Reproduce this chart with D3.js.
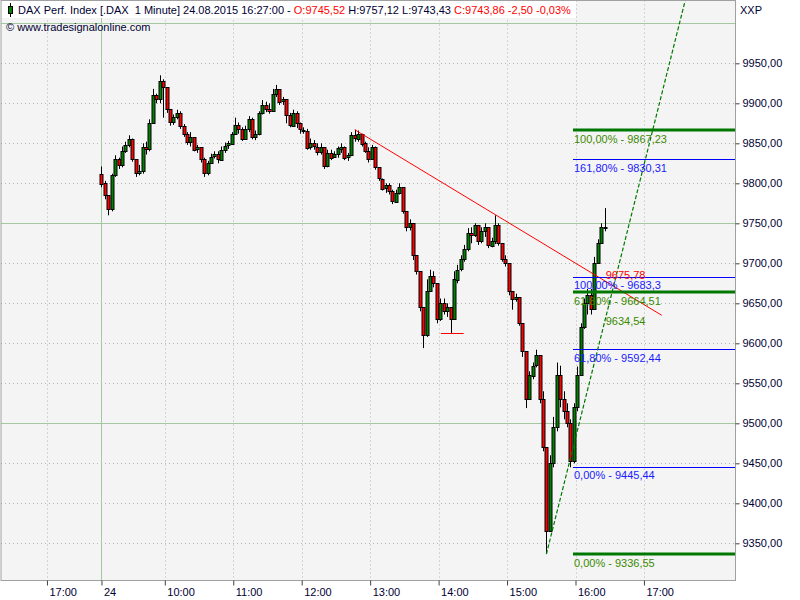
<!DOCTYPE html>
<html><head><meta charset="utf-8">
<script src="https://cdn.jsdelivr.net/npm/d3@7"></script>
<style>
body{margin:0;background:#fff}
svg{display:block;font-family:"Liberation Sans",Arial,sans-serif;font-size:11px}
</style>
</head><body>
<svg id="c" width="800" height="600"></svg>
<script>
// ---------- data ----------
const firstOpen = 9812;
const barStartMinute = 4.5;   // minutes after 09:00 of first bar
const barStepMinutes = 3;
const closes = [
 9800,9785,9768,9810,9830,9823,9840,9848,9855,9830,
 9812,9815,9845,9842,9875,9910,9905,9928,9920,9893,
 9877,9883,9888,9872,9862,9852,9858,9842,9845,9830,
 9812,9825,9833,9836,9830,9842,9847,9850,9862,9873,
 9868,9856,9868,9880,9858,9862,9888,9898,9893,9891,
 9912,9918,9902,9905,9885,9872,9888,9875,9867,9866,
 9845,9850,9846,9840,9846,9822,9838,9832,9836,9844,
 9846,9832,9835,9860,9856,9862,9850,9840,9830,9845,
 9820,9806,9794,9798,9790,9777,9788,9795,9765,9745,
 9750,9710,9690,9645,9610,9665,9684,9675,9630,9650,
 9640,9645,9630,9680,9692,9705,9718,9738,9735,9748,
 9728,9740,9745,9722,9728,9748,9725,9705,9700,9665,
 9655,9658,9625,9590,9530,9560,9572,9585,9530,9470,
 9365,9450,9495,9560,9530,9515,9500,9452,9520,9560,
 9620,9650,9660,9642,9700,9725,9745,9744
];
const highs = [
 9821,9803,9785,9812,9835,9832,9846,9852,9860,9856,
 9830,9823,9850,9852,9880,9918,9912,9935,9930,9918,
 9890,9886,9892,9890,9874,9864,9864,9855,9848,9842,
 9832,9828,9837,9840,9840,9846,9851,9853,9864,9882,
 9876,9870,9872,9884,9882,9866,9890,9904,9902,9900,
 9918,9923,9912,9908,9905,9888,9892,9890,9876,9870,
 9868,9856,9854,9850,9850,9842,9842,9842,9840,9846,
 9850,9846,9838,9864,9867,9866,9862,9852,9845,9848,
 9846,9820,9806,9800,9800,9792,9792,9800,9795,9765,
 9755,9748,9706,9690,9645,9680,9692,9690,9672,9656,
 9656,9650,9645,9690,9698,9710,9723,9744,9745,9750,
 9748,9745,9750,9745,9732,9760,9750,9725,9710,9700,
 9665,9662,9655,9625,9590,9565,9576,9592,9585,9540,
 9470,9460,9508,9576,9572,9540,9525,9505,9525,9571,
 9625,9656,9668,9668,9708,9730,9750,9769
];
const lows = [
 9795,9780,9760,9765,9808,9818,9820,9838,9845,9827,
 9808,9810,9812,9836,9840,9875,9900,9900,9882,9888,
 9872,9873,9880,9868,9858,9848,9846,9840,9838,9826,
 9808,9810,9825,9831,9825,9830,9838,9843,9848,9862,
 9862,9853,9855,9864,9855,9854,9860,9886,9889,9887,
 9890,9908,9898,9898,9875,9870,9872,9869,9862,9862,
 9842,9842,9842,9835,9836,9818,9820,9829,9832,9832,
 9838,9829,9828,9834,9852,9852,9846,9838,9826,9830,
 9817,9803,9791,9788,9786,9774,9778,9786,9762,9740,
 9741,9704,9686,9640,9594,9608,9665,9670,9625,9628,
 9636,9633,9613,9630,9675,9690,9702,9715,9725,9733,
 9723,9725,9733,9719,9720,9724,9722,9702,9696,9660,
 9642,9652,9622,9583,9519,9530,9555,9570,9525,9465,
 9337,9365,9445,9490,9520,9505,9495,9445,9450,9515,
 9560,9618,9636,9636,9642,9700,9725,9740
];

const timeTickLabels  = ["17:00","24","10:00","11:00","12:00","13:00","14:00","15:00","16:00","17:00"];
const timeTickMinutes = [-43.3, 4.5, 60, 120, 180, 240, 300, 360, 420, 480];
const dayBreakMinute = 4.5;
const priceTicks = [9350,9400,9450,9500,9550,9600,9650,9700,9750,9800,9850,9900,9950];
const roundLevels = [10000, 9750, 9500];

const fibStartMinute = 418;
const fibBlueLevels = [9830.31, 9683.3, 9592.44, 9445.44];
const fibBlueLabels = ["161,80% - 9830,31","100,00% - 9683,3","61,80% - 9592,44","0,00% - 9445,44"];
const fibGreenLevels = [9867.23, 9664.51, 9336.55];
const fibGreenLabels = ["100,00% - 9867,23","61,80% - 9664,51","0,00% - 9336,55"];

const resistMinutes = [226.5, 495.6];
const resistPrices  = [9867, 9635];
const supportMinutes = [394.5, 518];
const supportPrices  = [9336.55, 10039];
const markerMinutes = [302, 322];
const markerPrice = 9613;
const lastBarMinute = 446;
const resistLabel = "9675,78", resistValue = 9675.78;
const supportLabel = "9634,54", supportValue = 9634.54;

const headerParts = [
  ["DAX Perf. Index [.DAX\u00a0\u00a01 Minute] 24.08.2015 16:27:00 - ","#000033"],
  ["O:9745,52 ","#ff0000"],
  ["H:9757,12 L:9743,43 ","#000033"],
  ["C:9743,86 -2,50 -0,03%","#ff0000"]
];
const copyright = "\u00a9 www.tradesignalonline.com";

// ---------- layout ----------
const svg = d3.select("#c");
const P = {l:1, r:735.5, t:0.5, b:580.5};
const x = d3.scaleLinear().domain([60, 420]).range([164.8, 575.5]);
const y = d3.scaleLinear().domain([9350, 9950]).range([543.3, 63.3]);
const cy = v => Math.round(y(v)) + 0.5;

svg.append("defs").append("clipPath").attr("id","clip")
  .append("rect").attr("x",P.l).attr("y",P.t).attr("width",P.r-P.l).attr("height",P.b-P.t);

svg.append("rect").attr("x",P.l).attr("y",P.t).attr("width",P.r-P.l).attr("height",P.b-P.t)
  .attr("fill","#f4f4f4");

const g = svg.append("g").attr("clip-path","url(#clip)");

// dotted grid
g.append("g").selectAll("line").data(priceTicks).join("line")
  .attr("x1",P.l).attr("x2",P.r).attr("y1",cy).attr("y2",cy)
  .style("stroke","#b4b4b4").attr("stroke-dasharray","1,3");
g.append("g").selectAll("line").data(timeTickMinutes.filter(m=>m!==dayBreakMinute)).join("line")
  .attr("y1",P.t).attr("y2",P.b)
  .attr("x1",d=>Math.round(x(d))+0.5).attr("x2",d=>Math.round(x(d))+0.5)
  .style("stroke","#b4b4b4").attr("stroke-dasharray","1,3");

// round levels + day separator
g.append("g").selectAll("line").data(roundLevels).join("line")
  .attr("x1",P.l).attr("x2",P.r).attr("y1",cy).attr("y2",cy)
  .style("stroke","#a4c8a0");
g.append("line").attr("y1",P.t).attr("y2",P.b)
  .attr("x1",Math.round(x(dayBreakMinute))+0.5).attr("x2",Math.round(x(dayBreakMinute))+0.5)
  .style("stroke","#a4c8a0");

// header box
svg.append("rect").attr("x",2).attr("y",1).attr("width",574).attr("height",17).attr("fill","#ffffff");

// candles
const bars = closes.map((c,i)=>({
  m: barStartMinute + i*barStepMinutes,
  o: i===0 ? firstOpen : closes[i-1], c, h: highs[i], l: lows[i]
}));
const cg = g.append("g");
cg.append("g").selectAll("line").data(bars).join("line")
  .attr("x1",d=>Math.round(x(d.m))+0.5).attr("x2",d=>Math.round(x(d.m))+0.5)
  .attr("y1",d=>y(d.h)).attr("y2",d=>y(d.l))
  .style("stroke","#000").attr("stroke-width",1);
cg.append("g").selectAll("rect").data(bars).join("rect")
  .attr("x",d=>Math.round(x(d.m))-1).attr("width",3)
  .attr("y",d=>Math.round(y(Math.max(d.o,d.c)))+0.5)
  .attr("height",d=>Math.max(1,Math.round(Math.abs(y(d.o)-y(d.c)))))
  .style("fill",d=>d.c>=d.o?"#008000":"#ff0000")
  .style("stroke","#000").attr("stroke-width",1);

// marker line
g.append("line").attr("x1",x(markerMinutes[0])).attr("x2",x(markerMinutes[1]))
  .attr("y1",cy(markerPrice)).attr("y2",cy(markerPrice)).style("stroke","#ff0000");

// resistance trend line
g.append("line")
  .attr("x1",x(resistMinutes[0])).attr("y1",y(resistPrices[0]))
  .attr("x2",x(resistMinutes[1])).attr("y2",y(resistPrices[1]))
  .style("stroke","#ff0000").attr("stroke-width",1);

// fib lines
const fx1 = Math.round(x(fibStartMinute));
g.append("g").selectAll("line").data(fibBlueLevels).join("line")
  .attr("x1",fx1).attr("x2",P.r).attr("y1",cy).attr("y2",cy)
  .style("stroke","#0000ff").style("stroke-width","1px");
g.append("g").selectAll("line").data(fibGreenLevels).join("line")
  .attr("x1",fx1).attr("x2",P.r)
  .attr("y1",d=>Math.round(y(d))).attr("y2",d=>Math.round(y(d)))
  .style("stroke","#007800").style("stroke-width","3px");

// support (green dashed) line
g.append("line")
  .attr("x1",x(supportMinutes[0])).attr("y1",y(supportPrices[0]))
  .attr("x2",x(supportMinutes[1])).attr("y2",y(supportPrices[1]))
  .style("stroke","#007800").style("stroke-width","1.2px").attr("stroke-dasharray","4,2");

// fib labels
g.append("g").selectAll("text").data(fibBlueLevels).join("text")
  .attr("x",fx1+1).attr("y",d=>y(d)+12.5).style("fill","#1a1aff")
  .text((d,i)=>fibBlueLabels[i]);
g.append("g").selectAll("text").data(fibGreenLevels).join("text")
  .attr("x",fx1+1).attr("y",d=>y(d)+13).style("fill","#3a8a00")
  .text((d,i)=>fibGreenLabels[i]);
g.append("text").attr("x",x(lastBarMinute)+0.5).attr("y",y(resistValue)-4)
  .style("fill","#ff0000").text(resistLabel);
g.append("text").attr("x",x(lastBarMinute)+0.5).attr("y",y(supportValue)+9.5)
  .style("fill","#3a8a00").text(supportLabel);

// header
const ht = svg.append("text").attr("x",18).attr("y",14);
headerParts.forEach(p=>ht.append("tspan").style("fill",p[1]).text(p[0]));
svg.append("text").attr("x",6).attr("y",30.5).style("fill","#000033").text(copyright);
// small candle icon
svg.append("line").attr("x1",10.5).attr("x2",10.5).attr("y1",3).attr("y2",17).style("stroke","#000");
svg.append("rect").attr("x",8.5).attr("y",6.5).attr("width",4).attr("height",7).style("fill","#008000").style("stroke","#000");

// plot border
svg.append("rect").attr("x",P.l).attr("y",P.t).attr("width",P.r-P.l).attr("height",P.b-P.t)
  .attr("fill","none").style("stroke","#a0a0a0");

// right axis
const ay = svg.append("g").attr("transform",`translate(${P.r},0)`)
  .call(d3.axisRight(y).tickValues(priceTicks).tickSize(4).tickPadding(3)
    .tickFormat(d=>d3.format(".2f")(d).replace(".",",")));
ay.select(".domain").remove();
ay.selectAll("line").style("stroke","#404040");
ay.selectAll("text").style("fill","#000033").style("font-size","11px")
  .style("font-family","Liberation Sans, Arial, sans-serif");
svg.append("text").attr("x",740).attr("y",14).style("fill","#000033").text("XXP");

// bottom axis
const ax = svg.append("g").attr("transform",`translate(0,${P.b})`)
  .call(d3.axisBottom(x).tickValues(timeTickMinutes).tickSize(5)
    .tickFormat((d,i)=>timeTickLabels[i]));
ax.select(".domain").remove();
ax.selectAll("line").style("stroke","#404040");
ax.selectAll("text").style("fill","#000033").attr("text-anchor","start")
  .attr("dx",2).attr("dy","0.35em").attr("y",12)
  .style("font-size","11px").style("font-family","Liberation Sans, Arial, sans-serif");
</script>
</body></html>
